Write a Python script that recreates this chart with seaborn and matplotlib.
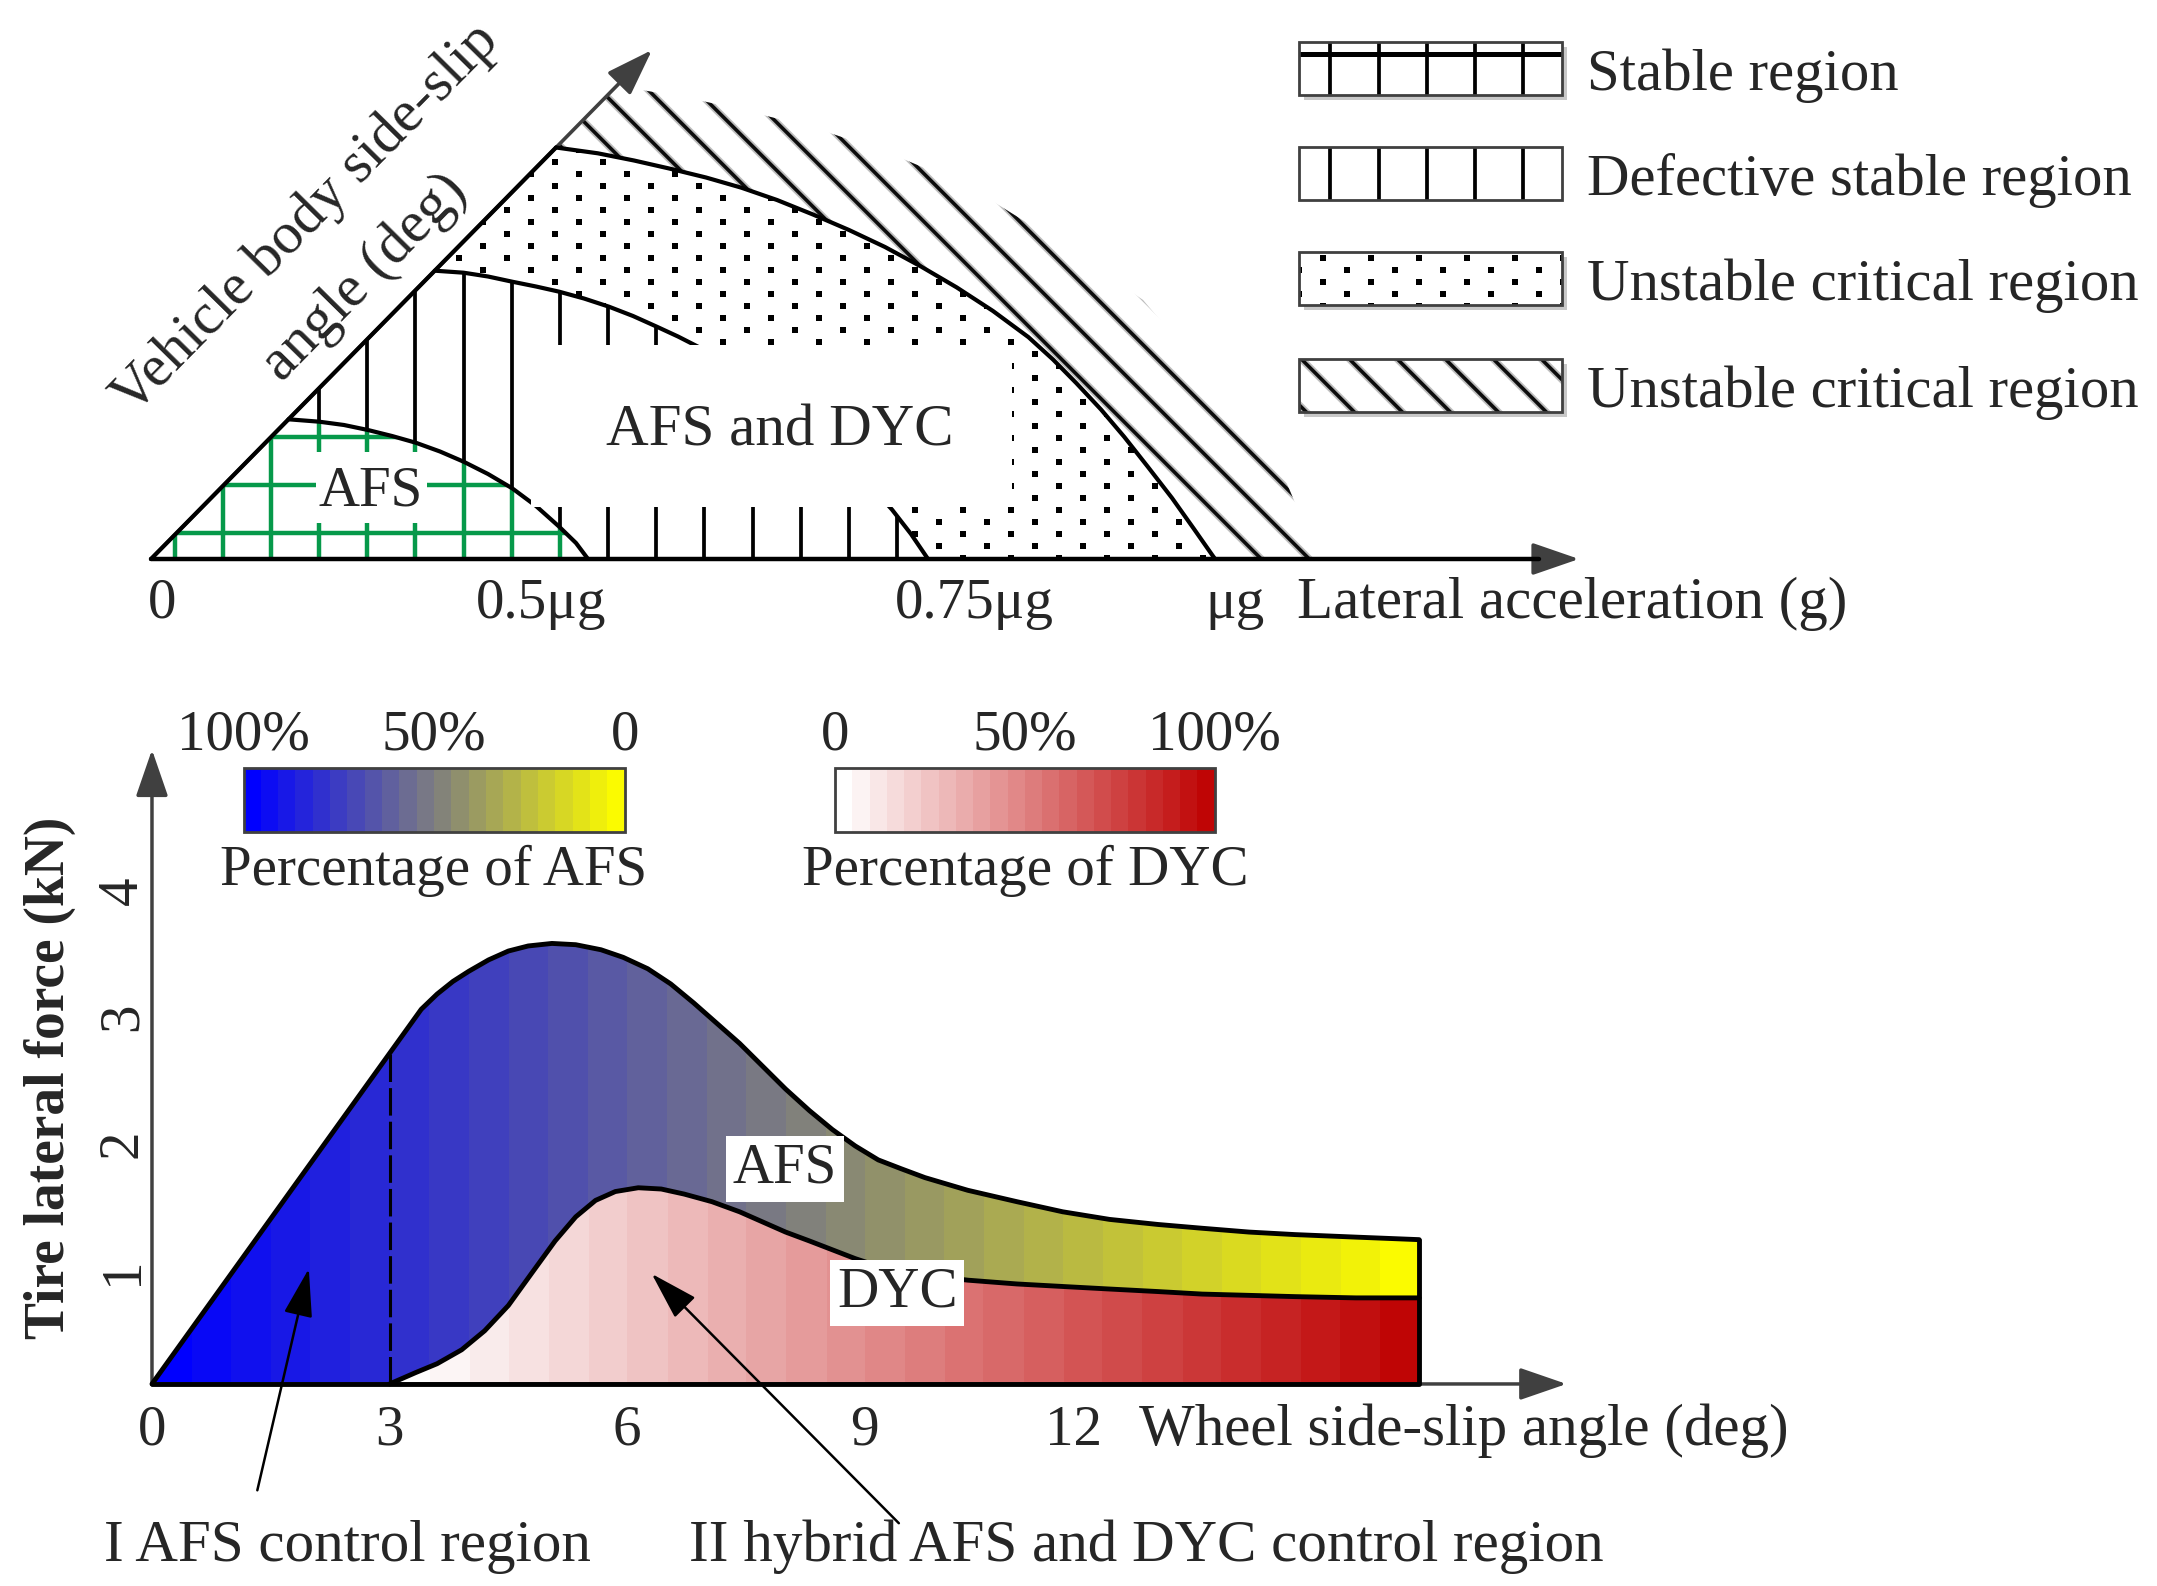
import numpy as np
import matplotlib
matplotlib.use("Agg")
import matplotlib.pyplot as plt
import seaborn as sns
from matplotlib.patches import Polygon, Rectangle
from matplotlib.collections import LineCollection
from matplotlib.colors import LinearSegmentedColormap, Normalize
from matplotlib.cm import ScalarMappable
from matplotlib.transforms import offset_copy

# ================= data: lower chart (tire lateral force, kN vs wheel side-slip, deg) =================
afs_x = [0.0, 3.40, 3.60, 3.80, 4.00, 4.25, 4.50, 4.75, 5.05, 5.35, 5.67, 5.95, 6.26, 6.55,
         6.84, 7.13, 7.42, 7.71, 8.00, 8.30, 8.59, 8.88, 9.17, 9.46, 9.76, 10.30, 10.92,
         11.50, 12.09, 12.70, 13.26, 13.85, 14.43, 15.20, 16.0]
afs_y = [0.0, 2.96, 3.08, 3.18, 3.26, 3.35, 3.42, 3.46, 3.48, 3.47, 3.43, 3.37, 3.28, 3.16,
         3.01, 2.85, 2.69, 2.51, 2.33, 2.16, 2.01, 1.88, 1.77, 1.70, 1.63, 1.53, 1.44,
         1.36, 1.30, 1.26, 1.23, 1.20, 1.18, 1.16, 1.14]
dyc_x = [3.0, 3.33, 3.60, 3.91, 4.20, 4.50, 4.80, 5.09, 5.35, 5.60, 5.85, 6.14, 6.43, 6.72,
         7.07, 7.42, 7.71, 8.00, 8.30, 8.59, 8.88, 9.17, 9.46, 9.76, 10.30, 10.92, 11.50,
         12.09, 12.70, 13.26, 13.85, 14.43, 15.20, 16.0]
dyc_y = [0.0, 0.09, 0.16, 0.27, 0.42, 0.62, 0.88, 1.13, 1.32, 1.45, 1.52, 1.55, 1.54, 1.50,
         1.44, 1.36, 1.28, 1.20, 1.13, 1.06, 0.99, 0.93, 0.89, 0.86, 0.82, 0.79, 0.77,
         0.75, 0.73, 0.71, 0.70, 0.69, 0.68, 0.68]
bottom_xticks = [0, 3, 6, 9, 12]
bottom_yticks = [1, 2, 3, 4]
afs_cbar_ticks = [100, 50, 0]
afs_cbar_labels = ["100%", "50%", "0"]
dyc_cbar_ticks = [0, 50, 100]
dyc_cbar_labels = ["0", "50%", "100%"]

# ================= data: upper schematic (side-slip angle vs lateral acceleration) =================
stable_u = [1.375, 1.683, 1.93, 2.169, 2.41, 2.647, 2.89, 3.126, 3.37, 3.612, 3.85, 4.082, 4.25, 4.37]
stable_v = [1.397, 1.373, 1.34, 1.290, 1.23, 1.163, 1.075, 0.973, 0.85, 0.707, 0.53, 0.323, 0.16, 0.0]
defective_u = [2.838, 3.126, 3.37, 3.612, 3.85, 4.082, 4.33, 4.58, 4.82, 5.058, 5.27, 5.47,
               6.0, 6.5, 7.0, 7.41, 7.60, 7.77]
defective_v = [2.883, 2.863, 2.825, 2.773, 2.725, 2.673, 2.605, 2.523, 2.43, 2.323, 2.225, 2.123,
               1.80, 1.40, 0.95, 0.494, 0.25, 0.0]
critical_u = [4.05, 4.468, 4.83, 5.186, 5.55, 5.904, 6.26, 6.622, 6.98, 7.34, 7.70, 8.057,
              8.42, 8.775, 9.02, 9.253, 9.50, 9.732, 9.97, 10.21, 10.43, 10.64]
critical_v = [4.115, 4.057, 3.985, 3.904, 3.815, 3.713, 3.59, 3.444, 3.29, 3.12, 2.925, 2.716,
              2.48, 2.218, 1.995, 1.759, 1.495, 1.222, 0.92, 0.61, 0.30, 0.0]
unstable_u = [4.62, 4.85, 5.425, 6.0, 6.67, 7.387, 8.2, 9.3, 9.92, 10.21, 10.88, 11.16, 11.42,
              11.63, 11.65]
unstable_v = [4.694, 4.70, 4.60, 4.47, 4.30, 4.057, 3.713, 3.023, 2.59, 2.25, 1.50, 1.22, 0.61,
              0.09, 0.0]
top_tick_pos = [0.107, 3.90, 8.23, 10.845]
top_tick_labels = ["0", "0.5\u03bcg", "0.75\u03bcg", "\u03bcg"]
legend_labels = ["Stable region", "Defective stable region",
                 "Unstable critical region", "Unstable critical region"]

# ================= style =================
sns.set_theme(style="white", rc={"axes.facecolor": "white", "figure.facecolor": "white"})
plt.rcParams["font.family"] = ["Liberation Serif", "DejaVu Serif", "DejaVu Sans"]
GRAY = "#404040"
GREEN = "#06994a"
FS = 41
FS_BIG = 42.5

W, H = 2157.0, 1586.0
fig = plt.figure(figsize=(W / 100, H / 100), dpi=100, facecolor="white")
top_frac = 660.0 / H
axT = fig.add_axes([0, 1 - top_frac, 1, top_frac])
axB = fig.add_axes([0, 0, 1, 1 - top_frac])


def axis_arrow(ax, start, end, color, lw, z):
    ax.annotate("", xy=end, xytext=start,
                arrowprops=dict(arrowstyle="-|>,head_length=1.45,head_width=0.5",
                                mutation_scale=20, color=color, lw=lw,
                                shrinkA=0, shrinkB=0), zorder=z)


# ======================================================================
# Upper schematic
# ======================================================================
step = 0.4816
vx = 0.236 + step * np.arange(0, 31)


def add_region(u, v, z):
    pts = np.column_stack([np.r_[0.0, u], np.r_[0.0, v]])
    p = Polygon(pts, closed=True, facecolor="white", edgecolor="none", zorder=z)
    axT.add_patch(p)
    return p


def draw_vlines(clip, color, lw, z):
    lc = axT.vlines(vx, -0.5, 5.6, colors=color, linewidths=lw, zorder=z)
    lc.set_clip_path(clip)


def draw_stripes(clip, z):
    cs = 0.063 + 0.48 * np.arange(-5, 50)
    segs = [[(c - 7, 7), (c + 2, -2)] for c in cs]
    for col, lw, dz in [("#bdbdbd", 5.2, 0.0), ("#0c0c0c", 2.6, 0.01)]:
        lc = LineCollection(segs, colors=col, linewidths=lw, zorder=z + dz)
        axT.add_collection(lc, autolim=False)
        lc.set_clip_path(clip)


def draw_dots(clip, z):
    us, vs = [], []
    for r in range(-20, 40):
        v = 3.847 - 0.12 * r
        u = 0.437 + 0.24 * (r % 2) + 0.48 * np.arange(0, 32)
        us.append(u)
        vs.append(np.full_like(u, v))
    sc = axT.scatter(np.concatenate(us), np.concatenate(vs), marker="s", s=21,
                     c="black", linewidths=0, zorder=z)
    sc.set_clip_path(clip)


p_out = add_region(unstable_u, unstable_v, 1)
draw_stripes(p_out, 1.1)
p_crit = add_region(critical_u, critical_v, 2)
draw_dots(p_crit, 2.1)
p_def = add_region(defective_u, defective_v, 3)
draw_vlines(p_def, "black", 2.7, 3.1)
p_st = add_region(stable_u, stable_v, 4)
draw_vlines(p_st, GREEN, 3.2, 4.1)
hl = axT.hlines(0.257 + step * np.arange(0, 4), -0.5, 6, colors=GREEN, linewidths=3.2, zorder=4.1)
hl.set_clip_path(p_st)

for uu, vv in [(stable_u, stable_v), (defective_u, defective_v), (critical_u, critical_v)]:
    sns.lineplot(x=uu, y=vv, ax=axT, color="black", lw=3.0, sort=False, zorder=5)

# axes of the schematic
axis_arrow(axT, (0, 0), (5.01, 5.09), GRAY, 2.6, 4.9)
axis_arrow(axT, (0, 0), (14.28, 0), GRAY, 2.6, 4.9)
axT.plot([0, critical_u[0]], [0, critical_v[0]], color="black", lw=3.0, zorder=5.2)
axT.plot([0, 13.88], [0, 0], color="black", lw=3.2, zorder=5.2)

# white label boxes
axT.add_patch(Rectangle((3.80, 0.52), 4.81, 1.62, facecolor="white", edgecolor="none", zorder=6))
axT.add_patch(Rectangle((1.65, 0.36), 1.11, 0.71, facecolor="white", edgecolor="none", zorder=6))
axT.text(6.29, 1.13, "AFS and DYC", fontsize=FS_BIG, ha="center", va="baseline", zorder=7)
axT.text(2.20, 0.54, "AFS", fontsize=FS, ha="center", va="baseline", zorder=7)

# tick labels & axis titles
for pos, lab in zip(top_tick_pos, top_tick_labels):
    axT.text(pos, -0.59, lab, fontsize=FS, ha="center", va="baseline")
axT.text(11.46, -0.59, "Lateral acceleration (g)", fontsize=FS_BIG, ha="left", va="baseline")
ang = np.degrees(np.arctan2(5.09, 5.01))
axT.text(1.558, 3.393, "Vehicle body side-slip", fontsize=FS_BIG, rotation=ang,
         rotation_mode="anchor", ha="center", va="center")
axT.text(2.138, 2.813, "angle (deg)", fontsize=FS_BIG, rotation=ang,
         rotation_mode="anchor", ha="center", va="center")

# legend
leg_u0, leg_w, leg_h = 11.48, 2.63, 0.53
leg_v0 = [4.64, 3.59, 2.54, 1.47]
for i, (lab, v0) in enumerate(zip(legend_labels, leg_v0)):
    if i != 1:
        axT.add_patch(Rectangle((leg_u0 + 0.05, v0 - 0.05), leg_w, leg_h,
                                facecolor="#c8c8c8", edgecolor="none", zorder=7))
    box = Rectangle((leg_u0, v0), leg_w, leg_h, facecolor="white", edgecolor="none", zorder=7.1)
    axT.add_patch(box)
    if i in (0, 1):
        draw_vlines(box, "black", 2.7, 7.2)
        if i == 0:
            axT.hlines([v0 + leg_h - 0.12], leg_u0, leg_u0 + leg_w, colors="black",
                       linewidths=3.6, zorder=7.2)
    elif i == 2:
        draw_dots(box, 7.2)
    else:
        draw_stripes(box, 7.2)
    axT.add_patch(Rectangle((leg_u0, v0), leg_w, leg_h, facecolor="none",
                            edgecolor=GRAY, lw=2, zorder=7.3))
    axT.text(14.36, v0 + 0.05, lab, fontsize=42.3, ha="left", va="baseline")

axT.set_xlim(-1.51, 20.06)
axT.set_ylim(-1.01, 5.59)
axT.axis("off")

# ======================================================================
# Lower chart
# ======================================================================
afs_cmap = LinearSegmentedColormap.from_list("afs", ["#0000ff", "#fbfb00"], N=32)
dyc_cmap = LinearSegmentedColormap.from_list("dyc", ["#ffffff", "#bf0505"], N=26)
grad = np.linspace(0, 1, 512).reshape(1, -1)

poly_afs = Polygon(np.column_stack([afs_x + [afs_x[-1]], afs_y + [0.0]]), closed=True,
                   facecolor="none", edgecolor="none")
axB.add_patch(poly_afs)
im1 = axB.imshow(grad, cmap=afs_cmap, extent=(afs_x[0], afs_x[-1], 0, max(afs_y)),
                 aspect="auto", origin="lower", interpolation="nearest", zorder=1)
im1.set_clip_path(poly_afs)

poly_dyc = Polygon(np.column_stack([dyc_x + [dyc_x[-1]], dyc_y + [0.0]]), closed=True,
                   facecolor="none", edgecolor="none")
axB.add_patch(poly_dyc)
im2 = axB.imshow(grad, cmap=dyc_cmap, extent=(dyc_x[0], dyc_x[-1], 0, max(dyc_y)),
                 aspect="auto", origin="lower", interpolation="nearest", zorder=1.2)
im2.set_clip_path(poly_dyc)

axis_arrow(axB, (0, 0), (17.86, 0), GRAY, 2.5, 2)
axis_arrow(axB, (0, 0), (0, 5.01), GRAY, 2.5, 2)

sns.lineplot(x=afs_x, y=afs_y, ax=axB, color="black", lw=3.5, sort=False, zorder=4)
sns.lineplot(x=dyc_x, y=dyc_y, ax=axB, color="black", lw=3.5, sort=False, zorder=4)
axB.plot([afs_x[-1], afs_x[-1], afs_x[0]], [afs_y[-1], 0, 0], color="black", lw=3.5, zorder=4)
y_split = np.interp(dyc_x[0], afs_x, afs_y)
axB.plot([dyc_x[0], dyc_x[0]], [0, y_split], color="black", lw=2.2, dashes=(9, 2), zorder=4)

# region labels
box_kw = dict(boxstyle="square,pad=0.12", facecolor="white", edgecolor="none")
axB.text(7.99, 1.59, "AFS", fontsize=FS, ha="center", va="baseline", bbox=box_kw, zorder=5)
axB.text(9.41, 0.61, "DYC", fontsize=FS, ha="center", va="baseline", bbox=box_kw, zorder=5)

# tick labels
for t in bottom_xticks:
    axB.text(t, -0.48, str(t), fontsize=FS, ha="right" if t == bottom_xticks[-1] else "center",
             va="baseline")
ytr = offset_copy(axB.transData, fig=fig, y=-13, units="dots")
for t in bottom_yticks:
    axB.text(-0.19, t, str(t), fontsize=FS, rotation=90, rotation_mode="anchor",
             ha="center", va="baseline", transform=ytr)
axB.text(12.46, -0.48, "Wheel side-slip angle (deg)", fontsize=FS_BIG, ha="left", va="baseline")
axB.text(-1.11, 2.415, "Tire lateral force (kN)", fontsize=40, fontweight="bold", rotation=90,
         rotation_mode="anchor", ha="center", va="baseline")

# annotations
arrow_kw = dict(arrowstyle="-|>,head_length=1.5,head_width=0.45", mutation_scale=20,
                color="black", lw=1.8, shrinkA=0, shrinkB=0)
axB.annotate("", xy=(1.98, 0.91), xytext=(1.33, -0.84), arrowprops=arrow_kw, zorder=6)
axB.annotate("", xy=(6.31, 0.87), xytext=(9.43, -1.10), arrowprops=arrow_kw, zorder=6)
axB.text(2.47, -1.40, "I AFS control region", fontsize=FS_BIG, ha="center", va="baseline")
axB.text(12.56, -1.40, "II hybrid AFS and DYC control region", fontsize=FS_BIG,
         ha="center", va="baseline")

axB.set_xlim(-1.919, 25.316)
axB.set_ylim(-1.596, 5.719)
axB.axis("off")

# ---------------- colour bars ----------------
afs_pct_cmap = LinearSegmentedColormap.from_list("afs_pct", ["#fbfb00", "#0000ff"], N=22)
dyc_pct_cmap = LinearSegmentedColormap.from_list("dyc_pct", ["#ffffff", "#bf0505"], N=22)


def add_cbar(x0, x1, cmap, ticks, labels, title, invert):
    y0, y1 = 768.0, 832.0
    cax = fig.add_axes([x0 / W, 1 - y1 / H, (x1 - x0) / W, (y1 - y0) / H])
    sm = ScalarMappable(norm=Normalize(0, 100), cmap=cmap)
    cb = fig.colorbar(sm, cax=cax, orientation="horizontal")
    if invert:
        cax.invert_xaxis()
    cb.set_ticks(ticks, labels=labels)
    cax.xaxis.set_ticks_position("top")
    cax.tick_params(axis="x", which="both", length=0, pad=5, labelsize=FS)
    cb.outline.set_edgecolor(GRAY)
    cb.outline.set_linewidth(2)
    cax.set_xlabel(title, fontsize=FS, labelpad=9)
    cax.xaxis.set_label_position("bottom")
    return cb


add_cbar(243.5, 624.6, afs_pct_cmap, afs_cbar_ticks, afs_cbar_labels, "Percentage of AFS", True)
add_cbar(835.0, 1214.5, dyc_pct_cmap, dyc_cbar_ticks, dyc_cbar_labels, "Percentage of DYC", False)

fig.savefig("out.png", dpi=100, facecolor="white")
